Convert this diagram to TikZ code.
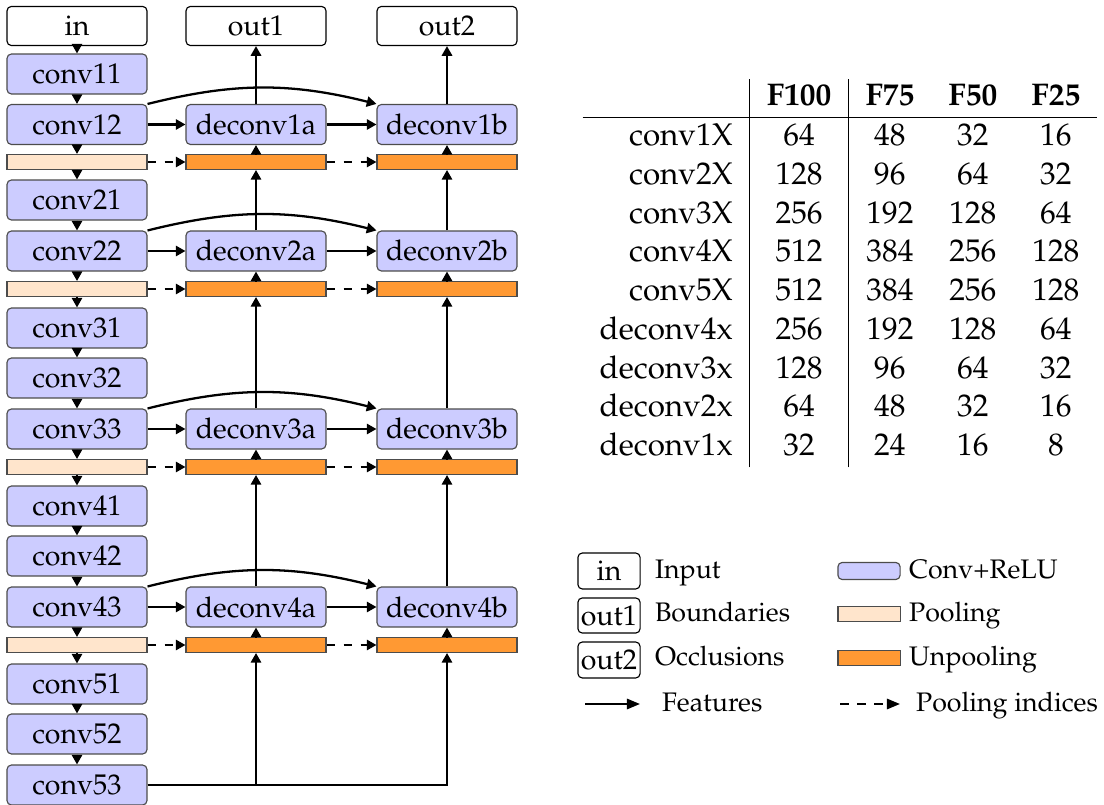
\documentclass[tikz,border=0pt]{standalone}
\usepackage[T1]{fontenc}
\usepackage{mathpazo}
\usetikzlibrary{arrows.meta}

\tikzset{
  conv/.style={draw=black!70, fill=blue!20, rounded corners=1.5pt,
    minimum width=49.1pt, minimum height=14pt, inner sep=0pt},
  io/.style={conv, draw=black, fill=white, minimum height=13.7pt},
  pool/.style={draw=black!70, fill=orange!20, minimum width=49.1pt,
    minimum height=5.2pt, inner sep=0pt},
  unpool/.style={pool, fill=orange!80},
  feat/.style={thick, -{Triangle[length=3.4pt,width=3.6pt]}},
  idx/.style={feat, dashed},
  lfeat/.style={thick, -{Triangle[length=4.6pt,width=3.6pt]}},
  ltext/.style={anchor=base west, font=\fontsize{9.4}{11}\selectfont},
}

\begin{document}
\begin{tikzpicture}[x=0.3509pt, y=-0.3509pt]
    \useasboundingbox (0,0) rectangle (1104,805);

    % ingresso e uscite
    \node[io] (in) at (77,26) {in};
    \node[io] (out1) at (256,26) {out1};
    \node[io] (out2) at (447,26) {out2};

    % encoder
    \node[conv] (conv11) at (77,74) {conv11};
    \node[conv] (conv12) at (77,124.5) {conv12};
    \node[pool] (pool1) at (77,162) {};
    \node[conv] (conv21) at (77,200) {conv21};
    \node[conv] (conv22) at (77,251) {conv22};
    \node[pool] (pool2) at (77,289) {};
    \node[conv] (conv31) at (77,328) {conv31};
    \node[conv] (conv32) at (77,378) {conv32};
    \node[conv] (conv33) at (77,429) {conv33};
    \node[pool] (pool3) at (77,467) {};
    \node[conv] (conv41) at (77,506) {conv41};
    \node[conv] (conv42) at (77,556) {conv42};
    \node[conv] (conv43) at (77,607) {conv43};
    \node[pool] (pool4) at (77,645) {};
    \node[conv] (conv51) at (77,684) {conv51};
    \node[conv] (conv52) at (77,734) {conv52};
    \node[conv] (conv53) at (77,785) {conv53};

    \foreach \a/\b in {in/conv11, conv11/conv12, conv12/pool1, pool1/conv21,
        conv21/conv22, conv22/pool2, pool2/conv31, conv31/conv32,
        conv32/conv33, conv33/pool3, pool3/conv41, conv41/conv42,
        conv42/conv43, conv43/pool4, pool4/conv51, conv51/conv52, conv52/conv53}
      \draw[feat] (\a.south) -- (\b.north);

    % decoder: due rami
    \foreach \i/\c/\y/\p in {1/conv12/124.5/162, 2/conv22/251/289,
        3/conv33/429/467, 4/conv43/607/645} {
      \node[conv] (deconv\i a) at (256,\y) {deconv\i a};
      \node[conv] (deconv\i b) at (447,\y) {deconv\i b};
      \node[unpool] (unpool\i a) at (256,\p) {};
      \node[unpool] (unpool\i b) at (447,\p) {};
      \draw[feat] (\c) -- (deconv\i a);
      \draw[feat] (deconv\i a) -- (deconv\i b);
      \draw[feat] (\c.north east) to[bend left=14] (deconv\i b.north west);
      \draw[idx] (pool\i) -- (unpool\i a);
      \draw[idx] (unpool\i a) -- (unpool\i b);
      \draw[feat] (unpool\i a.north) -- (deconv\i a.south);
      \draw[feat] (unpool\i b.north) -- (deconv\i b.south);
    }

    % collegamenti verso l'alto
    \draw[feat] (deconv1a) -- (out1);
    \draw[feat] (deconv1b) -- (out2);
    \foreach \i/\j in {2/1, 3/2, 4/3} {
      \draw[feat] (deconv\i a.north) -- (unpool\j a.south);
      \draw[feat] (deconv\i b.north) -- (unpool\j b.south);
    }
    \draw[feat] (conv53.east) -| (unpool4a.south);
    \draw[feat] (conv53.east) -| (unpool4b.south);

    % tabella dei filtri
    \node[anchor=north west, inner sep=0pt] (tab) at (582,78) {%
      \fontsize{11}{13.6}\selectfont
      \begin{tabular}{r|c|ccc}
        & \textbf{F100} & \textbf{F75} & \textbf{F50} & \textbf{F25}\\ \hline
        conv1X & 64 & 48 & 32 & 16\\
        conv2X & 128 & 96 & 64 & 32\\
        conv3X & 256 & 192 & 128 & 64\\
        conv4X & 512 & 384 & 256 & 128\\
        conv5X & 512 & 384 & 256 & 128\\
        deconv4x & 256 & 192 & 128 & 64\\
        deconv3x & 128 & 96 & 64 & 32\\
        deconv2x & 64 & 48 & 32 & 16\\
        deconv1x & 32 & 24 & 16 & 8
      \end{tabular}};

    % legenda
    \node[io, minimum width=21.8pt, minimum height=12.6pt] (lin) at (609,571) {in};
    \node[io, minimum width=21.8pt, minimum height=12.3pt] (lout1) at (609,615.5) {out1};
    \node[io, minimum width=21.8pt, minimum height=12.6pt] (lout2) at (609,660) {out2};
    \node[ltext] (tin) at (645,578) {Input};
    \node[ltext] (tout1) at (645,621) {Boundaries};
    \node[ltext] (tout2) at (645,665) {Occlusions};
    \coordinate (fa) at (585,704);
    \coordinate (fb) at (640,704);
    \draw[lfeat] (fa) -- (fb);
    \node[ltext] (tfeat) at (652,711) {Features};

    \node[conv, minimum width=21.8pt, minimum height=6pt] (lconv) at (869,571) {};
    \node[pool, minimum width=21.8pt] (lpool) at (869,614) {};
    \node[unpool, minimum width=21.8pt] (lunpool) at (869,658) {};
    \node[ltext] (tconv) at (899,578) {Conv+ReLU};
    \node[ltext] (tpool) at (899,621) {Pooling};
    \node[ltext] (tunpool) at (899,665) {Unpooling};
    \coordinate (ia) at (840,704);
    \coordinate (ib) at (900,704);
    \draw[lfeat, dashed] (ia) -- (ib);
    \node[ltext] (tidx) at (906,711) {Pooling indices};
\end{tikzpicture}
\end{document}
